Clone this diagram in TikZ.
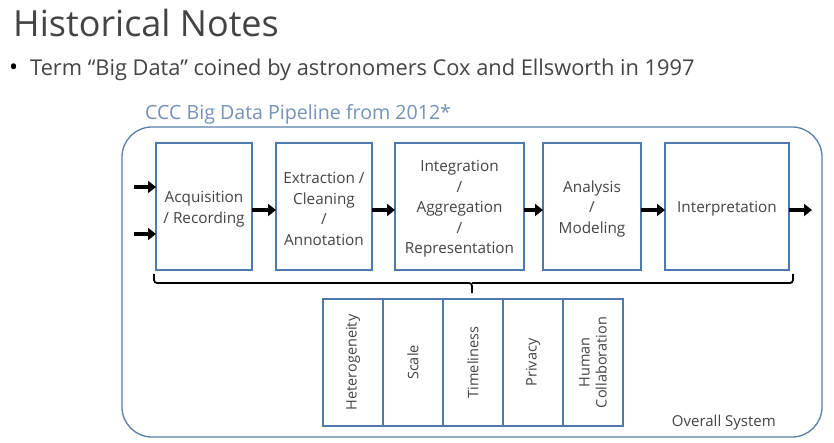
\documentclass[tikz,border=0pt]{standalone}
\usepackage{fontspec}
\setmainfont{Open Sans}
\usetikzlibrary{arrows.meta,calc}
\definecolor{boxblue}{HTML}{4F78AC}
\definecolor{outerblue}{HTML}{5A7EAD}
\definecolor{titleblue}{HTML}{7393BD}
\definecolor{txt}{HTML}{444444}
\begin{document}
\begin{tikzpicture}[x=1pt,y=-1pt,
  stage/.style={draw=boxblue,line width=1.1pt,inner sep=0pt,outer sep=0pt,minimum height=127pt},
  stagetext/.style={inner sep=0pt,text=txt,align=center,font=\fontsize{15.3}{20.5}\selectfont},
  chal/.style={draw=boxblue,line width=1.1pt,inner sep=0pt,outer sep=0pt,
    minimum width=60pt,minimum height=127pt},
  chaltext/.style={rotate=90,text=txt,align=center,font=\fontsize{14.5}{17}\selectfont},
  flow/.style={line width=3.2pt,-{Triangle[length=8pt,width=12pt]}}]
\useasboundingbox (0,0) rectangle (834,443);
\fill[white] (0,0) rectangle (834,443);
% title and bullet
\node[anchor=base west,inner sep=0pt,text=txt,font=\fontsize{36}{40}\selectfont] (title) at (13,37) {Historical Notes};
\node[anchor=base west,inner sep=0pt,text=black,font=\fontsize{24}{26}\selectfont] (bul) at (9,76) {•};
\node[anchor=base west,inner sep=0pt,text=txt,font=\fontsize{21.8}{26}\selectfont] (term) at (30,76) {Term “Big Data” coined by astronomers Cox and Ellsworth in 1997};
% outer system
\node[anchor=base west,inner sep=0pt,text=titleblue,font=\fontsize{19.6}{22}\selectfont] (ccc) at (145,120) {CCC Big Data Pipeline from 2012*};
\draw[outerblue,line width=1.3pt,rounded corners=30pt] (122,127) rectangle (822,437);
\node[anchor=base east,inner sep=0pt,text=txt,font=\fontsize{15}{17}\selectfont] (overall) at (776,426) {Overall System};
% stages
\node[stage,minimum width=96pt] (b1) at (204,206.5) {};
\node[stage,minimum width=96pt] (b2) at (324,206.5) {};
\node[stage,minimum width=129pt] (b3) at (459.5,206.5) {};
\node[stage,minimum width=98pt] (b4) at (592,206.5) {};
\node[stage,minimum width=124pt] (b5) at (727,206.5) {};
\node[stagetext] (s1) at ([yshift=-2.5pt]b1.center) {Acquisition\\/ Recording};
\node[stagetext] (s2) at ([yshift=-2.5pt]b2.center) {Extraction /\\Cleaning\\/\\Annotation};
\node[stagetext] (s3) at ([yshift=-2.5pt]b3.center) {Integration\\/\\Aggregation\\/\\Representation};
\node[stagetext] (s4) at ([yshift=-2.5pt]b4.center) {Analysis\\/\\Modeling};
\node[stagetext] (s5) at ([yshift=-2.5pt]b5.center) {Interpretation};
% arrows
\coordinate (in1) at (134,187);
\coordinate (in2) at (134,234);
\coordinate (out) at (812,210);
\draw[flow] (in1) -- (in1 -| b1.west);
\draw[flow] (in2) -- (in2 -| b1.west);
\draw[flow] ([yshift=-3.5pt]b1.east) -- ([yshift=-3.5pt]b2.west);
\draw[flow] ([yshift=-3.5pt]b2.east) -- ([yshift=-3.5pt]b3.west);
\draw[flow] ([yshift=-3.5pt]b3.east) -- ([yshift=-3.5pt]b4.west);
\draw[flow] ([yshift=-3.5pt]b4.east) -- ([yshift=-3.5pt]b5.west);
\draw[flow] ([yshift=-3.5pt]b5.east) -- (out);
% brace
\coordinate (bl) at (154,274);
\coordinate (br) at (793,274);
\coordinate (bm) at (472,283);
\coordinate (bt) at (472,293);
\draw[line width=1.8pt,rounded corners=3pt] (bl) |- (bm) -- (bt);
\draw[line width=1.8pt,rounded corners=3pt] (br) |- (bm);
% challenges
\node[chal] (c1) at (353,362.5) {};
\node[chal] (c2) at (413,362.5) {};
\node[chal] (c3) at (473,362.5) {};
\node[chal] (c4) at (533,362.5) {};
\node[chal] (c5) at (593,362.5) {};
\node[chaltext] (t1) at (c1) {Heterogeneity};
\node[chaltext] (t2) at (c2) {Scale};
\node[chaltext] (t3) at (c3) {Timeliness};
\node[chaltext] (t4) at (c4) {Privacy};
\node[chaltext] (t5) at (c5) {Human\\Collaboration};
\end{tikzpicture}
\end{document}
